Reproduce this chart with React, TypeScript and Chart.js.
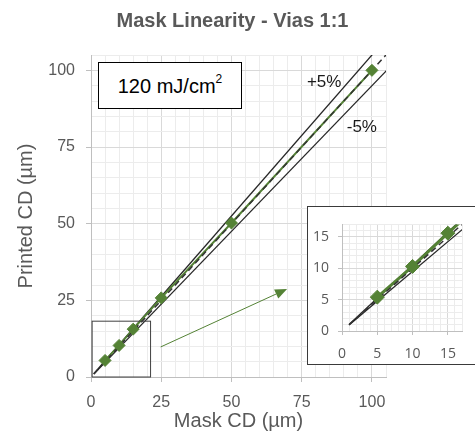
import React, { useEffect, useRef } from 'react';
import { Chart, registerables } from 'chart.js';

Chart.register(...registerables);

// ---- data ----
const maskCD = [5, 10, 15, 25, 50, 100];
const printedCD = [5.4, 10.3, 15.6, 25.8, 50.2, 100];
const refX = [1, 110];
const idealY = [1, 110];
const plus5Y = [1.05, 115.5];
const minus5Y = [0.95, 104.5];
const mainTickLabels = [0, 25, 50, 75, 100];
const insetTickLabels = [0, 5, 10, 15];

const TITLE = 'Mask Linearity - Vias 1:1';
const X_TITLE = 'Mask CD (µm)';
const Y_TITLE = 'Printed CD (µm)';

const FONT = "'Liberation Sans', Arial, sans-serif";
const INSET_FONT = "'Open Sans', 'Liberation Sans', sans-serif";
const GREEN = '#548235';
const REF = '#262626';
const TEXT = '#595959';
const GRID_MAJOR = '#d9d9d9';
const GRID_MINOR = '#ececec';

const pts = (xs: number[], ys: number[]) => xs.map((x, i) => ({ x, y: ys[i] }));

function buildDatasets(markerRadius: number, greenWidth: number) {
  return [
    {
      label: 'marks',
      data: pts(maskCD, printedCD),
      showLine: false,
      pointStyle: 'rectRot',
      pointRadius: markerRadius,
      pointBackgroundColor: GREEN,
      pointBorderColor: GREEN,
      order: 0,
    },
    {
      label: '1:1',
      data: pts(refX, idealY),
      showLine: true,
      borderColor: '#333333',
      borderWidth: 1.5,
      borderDash: [6, 4],
      pointRadius: 0,
      order: 1,
    },
    {
      label: 'data line',
      data: pts(maskCD, printedCD),
      showLine: true,
      borderColor: GREEN,
      borderWidth: greenWidth,
      pointRadius: 0,
      order: 2,
    },
    {
      label: '+5%',
      data: pts(refX, plus5Y),
      showLine: true,
      borderColor: REF,
      borderWidth: 1.3,
      pointRadius: 0,
      order: 3,
    },
    {
      label: '-5%',
      data: pts(refX, minus5Y),
      showLine: true,
      borderColor: REF,
      borderWidth: 1.3,
      pointRadius: 0,
      order: 3,
    },
  ];
}

function axis(opts: {
  max: number;
  step: number;
  major: number[];
  fontFamily: string;
  fontSize: number;
  pad: number;
  tickLen: number;
  title?: any;
  fit: (s: any) => void;
}) {
  const isMajor = (v: number) => opts.major.includes(v);
  return {
    type: 'linear',
    min: 0,
    max: opts.max,
    afterFit: opts.fit,
    ticks: {
      stepSize: opts.step,
      autoSkip: false,
      maxRotation: 0,
      padding: opts.pad,
      color: TEXT,
      font: { family: opts.fontFamily, size: opts.fontSize },
      callback: (v: any) => (isMajor(Number(v)) ? String(v) : ''),
    },
    grid: {
      color: (c: any) => (c.tick && isMajor(c.tick.value) ? GRID_MAJOR : GRID_MINOR),
      tickColor: (c: any) => (c.tick && isMajor(c.tick.value) ? '#bfbfbf' : 'rgba(0,0,0,0)'),
      tickLength: opts.tickLen,
      lineWidth: 1,
    },
    border: { color: '#bfbfbf', width: 1 },
    title: opts.title || { display: false },
  };
}

const mainDecor = {
  id: 'mainDecor',
  afterDatasetsDraw(chart: any) {
    const { ctx, scales } = chart;
    const xs = scales.x;
    const ys = scales.y;
    const px = (v: number) => xs.getPixelForValue(v);
    const py = (v: number) => ys.getPixelForValue(v);
    ctx.save();
    // zoom box
    ctx.strokeStyle = '#404040';
    ctx.lineWidth = 1;
    const bx0 = px(0.4), bx1 = px(21.2), by0 = py(0), by1 = py(18.2);
    ctx.strokeRect(bx0, by1, bx1 - bx0, by0 - by1);
    // arrow
    const ax0 = px(24.8), ay0 = py(9.8), ax1 = px(69.8), ay1 = py(28.7);
    const ang = Math.atan2(ay1 - ay0, ax1 - ax0);
    const hl = 12, hw = 5;
    const bxh = ax1 - hl * Math.cos(ang), byh = ay1 - hl * Math.sin(ang);
    ctx.strokeStyle = GREEN;
    ctx.fillStyle = GREEN;
    ctx.beginPath();
    ctx.moveTo(ax0, ay0);
    ctx.lineTo(bxh, byh);
    ctx.stroke();
    ctx.beginPath();
    ctx.moveTo(ax1, ay1);
    ctx.lineTo(bxh + hw * Math.sin(ang), byh - hw * Math.cos(ang));
    ctx.lineTo(bxh - hw * Math.sin(ang), byh + hw * Math.cos(ang));
    ctx.closePath();
    ctx.fill();
    // +5% / -5% labels
    ctx.fillStyle = '#1a1a1a';
    ctx.font = `17px ${FONT}`;
    ctx.textAlign = 'center';
    ctx.textBaseline = 'middle';
    ctx.fillText('+5%', px(83), py(96.2));
    ctx.fillText('-5%', px(96.4), py(81.5));
    ctx.restore();
  },
  afterDraw(chart: any) {
    const { ctx } = chart;
    ctx.save();
    ctx.font = `bold 20px ${FONT}`;
    ctx.fillStyle = TEXT;
    ctx.textAlign = 'center';
    ctx.textBaseline = 'alphabetic';
    ctx.fillText(TITLE, 232.5, 27);
    ctx.restore();
  },
};

export default function App() {
  const mainRef = useRef<HTMLCanvasElement>(null);
  const insetRef = useRef<HTMLCanvasElement>(null);

  useEffect(() => {
    const main = new Chart(mainRef.current as HTMLCanvasElement, {
      type: 'scatter',
      data: { datasets: buildDatasets(6, 2) as any },
      plugins: [mainDecor],
      options: {
        animation: false,
        responsive: false,
        events: [],
        layout: { padding: { top: 55, right: 89, left: 0, bottom: 0 } },
        plugins: { legend: { display: false }, tooltip: { enabled: false }, title: { display: false } },
        scales: {
          x: axis({
            max: 105,
            step: 5,
            major: mainTickLabels,
            fontFamily: FONT,
            fontSize: 16,
            pad: 11,
            tickLen: 5,
            title: {
              display: true,
              text: X_TITLE,
              color: TEXT,
              font: { family: FONT, size: 20 },
              padding: { top: 0, bottom: 5 },
            },
            fit: (s: any) => {
              s.height = 61;
            },
          }),
          y: axis({
            max: 105,
            step: 5,
            major: mainTickLabels,
            fontFamily: FONT,
            fontSize: 16,
            pad: 11,
            tickLen: 5,
            title: {
              display: true,
              text: Y_TITLE,
              color: TEXT,
              font: { family: FONT, size: 20 },
              padding: { top: 14, bottom: 0 },
            },
            fit: (s: any) => {
              s.width = 91;
            },
          }),
        } as any,
      },
    });

    const inset = new Chart(insetRef.current as HTMLCanvasElement, {
      type: 'scatter',
      data: { datasets: buildDatasets(7, 3) as any },
      options: {
        animation: false,
        responsive: false,
        events: [],
        layout: { padding: { top: 10, right: 12, left: 0, bottom: 0 } },
        plugins: { legend: { display: false }, tooltip: { enabled: false }, title: { display: false } },
        scales: {
          x: axis({
            max: 17,
            step: 1,
            major: insetTickLabels,
            fontFamily: INSET_FONT,
            fontSize: 14,
            pad: 11,
            tickLen: 4,
            fit: (s: any) => {
              s.height = 32;
            },
          }),
          y: axis({
            max: 17,
            step: 1,
            major: insetTickLabels,
            fontFamily: INSET_FONT,
            fontSize: 14,
            pad: 9,
            tickLen: 4,
            fit: (s: any) => {
              s.width = 34;
            },
          }),
        } as any,
      },
    });

    return () => {
      main.destroy();
      inset.destroy();
    };
  }, []);

  return (
    <div
      style={{
        position: 'absolute',
        left: 0,
        top: 0,
        width: 475,
        height: 438,
        overflow: 'hidden',
        background: '#ffffff',
      }}
    >
      <canvas ref={mainRef} width={475} height={438} style={{ position: 'absolute', left: 0, top: 0 }} />
      <div
        style={{
          position: 'absolute',
          left: 98,
          top: 62,
          width: 144,
          height: 47,
          boxSizing: 'border-box',
          border: '1.5px solid #000000',
          background: '#ffffff',
          fontFamily: FONT,
          fontSize: 20,
          color: '#000000',
          display: 'flex',
          alignItems: 'center',
          justifyContent: 'center',
          lineHeight: 1,
        }}
      >
        <span>
          120 mJ/cm<sup style={{ fontSize: 12, verticalAlign: 'top', position: 'relative', top: -3 }}>2</sup>
        </span>
      </div>
      <div
        style={{
          position: 'absolute',
          left: 307,
          top: 206,
          width: 200,
          height: 159,
          boxSizing: 'border-box',
          border: '1.5px solid #3a3a3a',
          background: '#ffffff',
        }}
      />
      <canvas ref={insetRef} width={166} height={156} style={{ position: 'absolute', left: 308, top: 207 }} />
    </div>
  );
}
